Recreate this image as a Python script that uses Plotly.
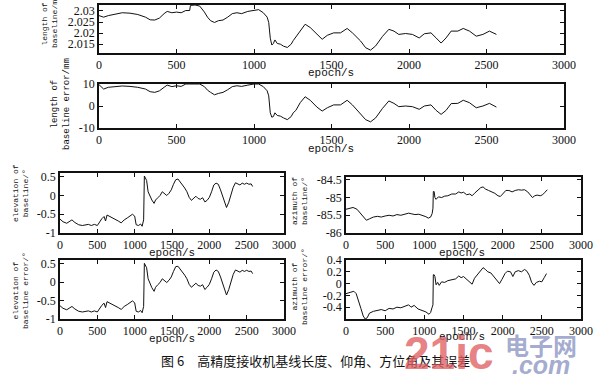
import plotly.graph_objects as go

# ---------------- data ----------------
epoch_len = [0, 30, 60, 100, 150, 200, 250, 300, 330, 360, 390, 420, 440, 470, 500, 530, 560, 585,
             590, 620, 650, 680, 700, 720, 745, 770, 800, 830, 860, 890, 920, 960, 1000, 1030, 1060,
             1085, 1095, 1105, 1115, 1125, 1135, 1150, 1170, 1190, 1215, 1240, 1253, 1270, 1298, 1330,
             1363, 1406, 1440, 1473, 1514, 1558, 1601, 1635, 1688, 1720, 1752, 1785, 1829, 1870, 1903,
             1934, 1978, 2022, 2066, 2099, 2142, 2175, 2207, 2239, 2272, 2315, 2350, 2390, 2434, 2477,
             2519, 2564]
length_m = [2.0279, 2.0272, 2.0279, 2.0284, 2.0292, 2.0290, 2.0284, 2.0272, 2.0260, 2.0259, 2.0268,
            2.0288, 2.0298, 2.0292, 2.0295, 2.0292, 2.0302, 2.0302, 2.0325, 2.0327, 2.0322, 2.0295,
            2.0272, 2.0256, 2.0248, 2.0256, 2.0259, 2.0272, 2.0288, 2.0292, 2.0288, 2.0298, 2.0302,
            2.0306, 2.0292, 2.0272, 2.0248, 2.0177, 2.0146, 2.0153, 2.0169, 2.0153, 2.0150, 2.0141,
            2.0135, 2.0150, 2.0166, 2.0182, 2.0213, 2.0240, 2.0225, 2.0194, 2.0172, 2.0190, 2.0201,
            2.0201, 2.0221, 2.0201, 2.0164, 2.0134, 2.0123, 2.0142, 2.0185, 2.0217, 2.0209, 2.0194,
            2.0198, 2.0194, 2.0178, 2.0197, 2.0201, 2.0178, 2.0155, 2.0178, 2.0209, 2.0209, 2.0221,
            2.0209, 2.0186, 2.0194, 2.0209, 2.0194]
length_err_mm = [9.7, 7.7, 8.5, 8.8, 9.1, 8.9, 8.5, 7.7, 6.5, 6.2, 6.9, 8.5, 9.5, 8.8, 9.2, 8.9, 10.0,
                 10.0, 10.0, 10.0, 10.0, 8.8, 7.2, 6.2, 5.1, 5.7, 6.2, 7.4, 8.8, 9.2, 8.9, 9.5, 10.0,
                 10.0, 8.8, 6.9, 4.6, -3.1, -5.1, -4.8, -3.1, -4.3, -4.6, -5.4, -6.2, -4.8, -3.1, -2.0,
                 1.5, 4.2, 2.6, -0.5, -2.3, -0.8, 0.5, 0.5, 2.6, 0.5, -3.5, -6.2, -7.2, -5.4, -1.1,
                 2.3, 1.2, -0.3, 0.0, -0.3, -1.5, 0.0, 0.5, -2.0, -3.8, -2.0, 1.1, 1.2, 2.6, 1.5,
                 -0.8, 0.0, 1.2, -0.5]

epoch_elev = [0, 40, 90, 130, 160, 200, 250, 300, 340, 380, 420, 460, 500, 530, 560, 590, 610, 630,
              660, 700, 740, 780, 820, 860, 900, 940, 970, 1000, 1020, 1050, 1080, 1100, 1120, 1130,
              1140, 1160, 1180, 1200, 1230, 1260, 1280, 1310, 1340, 1370, 1400, 1430, 1460, 1490,
              1520, 1550, 1580, 1610, 1640, 1670, 1700, 1730, 1760, 1790, 1820, 1850, 1880, 1910,
              1940, 1970, 2000, 2030, 2060, 2090, 2120, 2150, 2180, 2210, 2230, 2260, 2290, 2320,
              2350, 2380, 2410, 2440, 2470, 2500, 2530, 2560, 2580]
elevation_deg = [-0.63, -0.70, -0.74, -0.68, -0.65, -0.72, -0.78, -0.80, -0.79, -0.77, -0.80, -0.77,
                 -0.80, -0.70, -0.62, -0.56, -0.68, -0.52, -0.55, -0.58, -0.62, -0.68, -0.73, -0.65,
                 -0.60, -0.53, -0.50, -0.55, -0.78, -0.80, -0.76, -0.82, -0.65, 0.52, 0.47, 0.40,
                 0.10, 0.00, -0.12, -0.21, -0.12, -0.06, 0.00, 0.10, 0.06, 0.00, 0.06, 0.15, 0.30,
                 0.42, 0.44, 0.36, 0.30, 0.20, 0.10, -0.05, -0.13, -0.08, -0.02, -0.08, -0.10, -0.06,
                 -0.17, -0.13, -0.05, 0.10, 0.28, 0.33, 0.30, 0.15, -0.05, -0.25, -0.32, -0.18, 0.05,
                 0.22, 0.34, 0.30, 0.28, 0.33, 0.30, 0.33, 0.30, 0.31, 0.24]
elevation_err_deg = [-0.64, -0.71, -0.75, -0.69, -0.66, -0.73, -0.79, -0.81, -0.80, -0.78, -0.81,
                     -0.78, -0.81, -0.71, -0.63, -0.57, -0.69, -0.53, -0.56, -0.59, -0.63, -0.69,
                     -0.74, -0.66, -0.61, -0.54, -0.51, -0.56, -0.79, -0.81, -0.77, -0.83, -0.66,
                     0.51, 0.46, 0.39, 0.09, -0.01, -0.15, -0.25, -0.14, -0.07, -0.01, 0.09, 0.05,
                     -0.01, 0.05, 0.14, 0.29, 0.42, 0.43, 0.35, 0.29, 0.19, 0.09, -0.06, -0.14, -0.09,
                     -0.03, -0.09, -0.11, -0.07, -0.20, -0.14, -0.06, 0.09, 0.27, 0.33, 0.29, 0.14,
                     -0.07, -0.28, -0.35, -0.20, 0.04, 0.21, 0.33, 0.29, 0.27, 0.32, 0.29, 0.32,
                     0.29, 0.30, 0.23]

epoch_azi = [0, 40, 90, 140, 190, 230, 260, 300, 350, 400, 450, 500, 550, 600, 650, 700, 750, 800,
             840, 880, 930, 980, 1020, 1050, 1080, 1100, 1110, 1115, 1125, 1135, 1150, 1180, 1220,
             1260, 1300, 1350, 1400, 1440, 1470, 1500, 1540, 1580, 1610, 1640, 1680, 1720, 1750,
             1780, 1820, 1860, 1900, 1940, 1970, 2000, 2040, 2080, 2120, 2160, 2200, 2240, 2280,
             2320, 2350, 2380, 2410, 2440, 2480, 2510, 2540, 2570]
azimuth_deg = [-85.33, -85.30, -85.28, -85.33, -85.46, -85.58, -85.64, -85.60, -85.55, -85.53,
               -85.55, -85.52, -85.50, -85.52, -85.48, -85.50, -85.47, -85.44, -85.46, -85.48,
               -85.47, -85.50, -85.54, -85.58, -85.55, -85.45, -85.30, -84.83, -84.83, -85.00,
               -85.05, -84.98, -85.00, -84.96, -84.95, -84.90, -84.90, -84.84, -84.87, -84.85,
               -84.92, -84.90, -84.95, -84.88, -84.80, -84.72, -84.70, -84.76, -84.80, -84.83,
               -84.88, -84.95, -84.97, -84.90, -84.80, -84.80, -84.84, -84.80, -84.78, -84.79,
               -84.78, -84.84, -84.92, -85.00, -84.95, -84.93, -84.95, -84.92, -84.85, -84.78]

epoch_azi_err = [0, 50, 100, 130, 160, 190, 220, 245, 270, 300, 350, 400, 450, 500, 550, 600, 650,
                 700, 750, 800, 830, 870, 920, 970, 1020, 1060, 1080, 1100, 1110, 1115, 1125, 1135,
                 1150, 1170, 1190, 1220, 1260, 1300, 1350, 1400, 1440, 1470, 1500, 1540, 1580,
                 1610, 1640, 1680, 1720, 1750, 1780, 1810, 1850, 1890, 1930, 1960, 1990, 2030,
                 2060, 2100, 2130, 2160, 2200, 2240, 2280, 2310, 2340, 2370, 2400, 2430, 2470,
                 2500, 2530, 2560]
azimuth_err_deg = [-0.17, -0.15, -0.13, -0.17, -0.28, -0.42, -0.55, -0.60, -0.58, -0.50, -0.47,
                   -0.46, -0.44, -0.46, -0.42, -0.43, -0.40, -0.41, -0.38, -0.36, -0.40, -0.37,
                   -0.43, -0.46, -0.48, -0.52, -0.49, -0.40, -0.36, 0.15, 0.15, 0.12, -0.02, 0.02,
                   -0.03, 0.03, 0.02, 0.05, 0.06, 0.08, 0.13, 0.10, 0.12, 0.07, 0.03, -0.01, 0.09,
                   0.16, 0.22, 0.27, 0.24, 0.20, 0.18, 0.11, 0.04, 0.00, 0.07, 0.17, 0.21, 0.20,
                   0.12, 0.20, 0.22, 0.20, 0.24, 0.21, 0.14, 0.02, -0.03, 0.02, 0.04, 0.03, 0.10,
                   0.17]

x_ticks = [0, 500, 1000, 1500, 2000, 2500, 3000]
y1_ticks = [2.015, 2.02, 2.025, 2.03]
y1_text = ["2.015", "2.02", "2.025", "2.03"]
y2_ticks = [-10, 0, 10]
y3_ticks = [-1, -0.5, 0, 0.5]
y3_text = ["-1", "-0.5", "0", "0.5"]
y4_ticks = [-86, -85.5, -85, -84.5]
y4_text = ["-86", "-85.5", "-85", "-84.5"]
y6_ticks = [-0.4, -0.2, 0, 0.2, 0.4]
y6_text = ["-0.4", "-0.2", "0", "0.2", "0.4"]

caption = "图 6　高精度接收机基线长度、仰角、方位角及其误差"

# ---------------- figure ----------------
W, H = 600, 380

def dx(a, b):
    return [a / W, b / W]

def dy(top, bottom):
    return [1 - bottom / H, 1 - top / H]

fig = go.Figure()
series = [
    (epoch_len, length_m),
    (epoch_len, length_err_mm),
    (epoch_elev, elevation_deg),
    (epoch_azi, azimuth_deg),
    (epoch_elev, elevation_err_deg),
    (epoch_azi_err, azimuth_err_deg),
]
for i, (xs, ys) in enumerate(series, start=1):
    fig.add_trace(go.Scatter(x=xs, y=ys, mode="lines",
                             line=dict(color="#111111", width=1),
                             xaxis=f"x{'' if i == 1 else i}", yaxis=f"y{'' if i == 1 else i}",
                             showlegend=False, cliponaxis=True))

tickfont = dict(family="Liberation Serif", size=12, color="#111111")
common = dict(showline=True, linecolor="#111111", linewidth=1.6, mirror="ticks",
              ticks="inside", ticklen=4, tickcolor="#111111", showgrid=False,
              zeroline=False, tickfont=tickfont, fixedrange=True, automargin=False)

boxes = [
    (dx(99, 564), dy(5, 53), [2.011, 2.0327], y1_ticks, y1_text),
    (dx(99, 564), dy(84, 128), [-10, 10], y2_ticks, ["-10", "0", "10"]),
    (dx(60, 284), dy(173, 233), [-1, 0.6], y3_ticks, y3_text),
    (dx(346, 581), dy(177, 233), [-86, -84.42], y4_ticks, y4_text),
    (dx(60, 284), dy(260, 319), [-1, 0.6], y3_ticks, y3_text),
    (dx(346, 581), dy(260, 319), [-0.6, 0.4], y6_ticks, y6_text),
]
layout = {}
for i, (xd, yd, yr, yt, ytt) in enumerate(boxes, start=1):
    s = "" if i == 1 else str(i)
    layout[f"xaxis{s}"] = dict(domain=xd, range=[0, 3000], anchor=f"y{s}",
                               tickvals=x_ticks, ticktext=[str(v) for v in x_ticks], **common)
    layout[f"yaxis{s}"] = dict(domain=yd, range=yr, anchor=f"x{s}",
                               tickvals=yt, ticktext=ytt, **common)

def ann(x, y, text, size, angle=0, family="Liberation Mono", color="#111111", **kw):
    return dict(x=x / W, y=1 - y / H, xref="paper", yref="paper", text=text, showarrow=False,
                textangle=angle, font=dict(family=family, size=size, color=color),
                xanchor="center", yanchor="middle", **kw)

annotations = [
    ann(331, 73, "epoch/s", 11),
    ann(331, 149, "epoch/s", 11),
    ann(172, 253, "epoch/s", 11),
    ann(462, 253, "epoch/s", 11),
    ann(172, 339, "epoch/s", 11),
    ann(462, 337, "epoch/s", 11),
    ann(50, 24, "length of<br>baseline/m", 8, angle=-90),
    ann(61, 104, "length of<br>baseline error/mm", 9, angle=-90),
    ann(20, 193, "elevation of<br>baseline/°", 8, angle=-90),
    ann(20, 291, "elevation of<br>baseline error/°", 8, angle=-90),
    ann(299, 201, "azimuth of<br>baseline/°", 8, angle=-90),
    ann(299, 287, "azimuth of<br>baseline error/°", 8, angle=-90),
    ann(316, 360, caption, 13, family="Noto Sans CJK SC"),
    ann(449, 353, "<b>21ic</b>", 46, family="Liberation Sans", color="rgba(225,95,100,0.8)"),
    ann(541, 344, "<b>电子网</b>", 24, family="Noto Sans CJK SC", color="rgba(140,150,195,0.8)"),
    ann(541, 365, "<b><i>.com</i></b>", 25, family="Liberation Sans", color="rgba(140,150,195,0.8)"),
]

fig.update_layout(width=W, height=H, autosize=False, margin=dict(l=0, r=0, t=0, b=0),
                  paper_bgcolor="white", plot_bgcolor="white",
                  annotations=annotations, **layout)

fig.write_html("out.html", config={"displayModeBar": False},
               post_script="document.body.style.margin='0';document.body.style.overflow='hidden';")
